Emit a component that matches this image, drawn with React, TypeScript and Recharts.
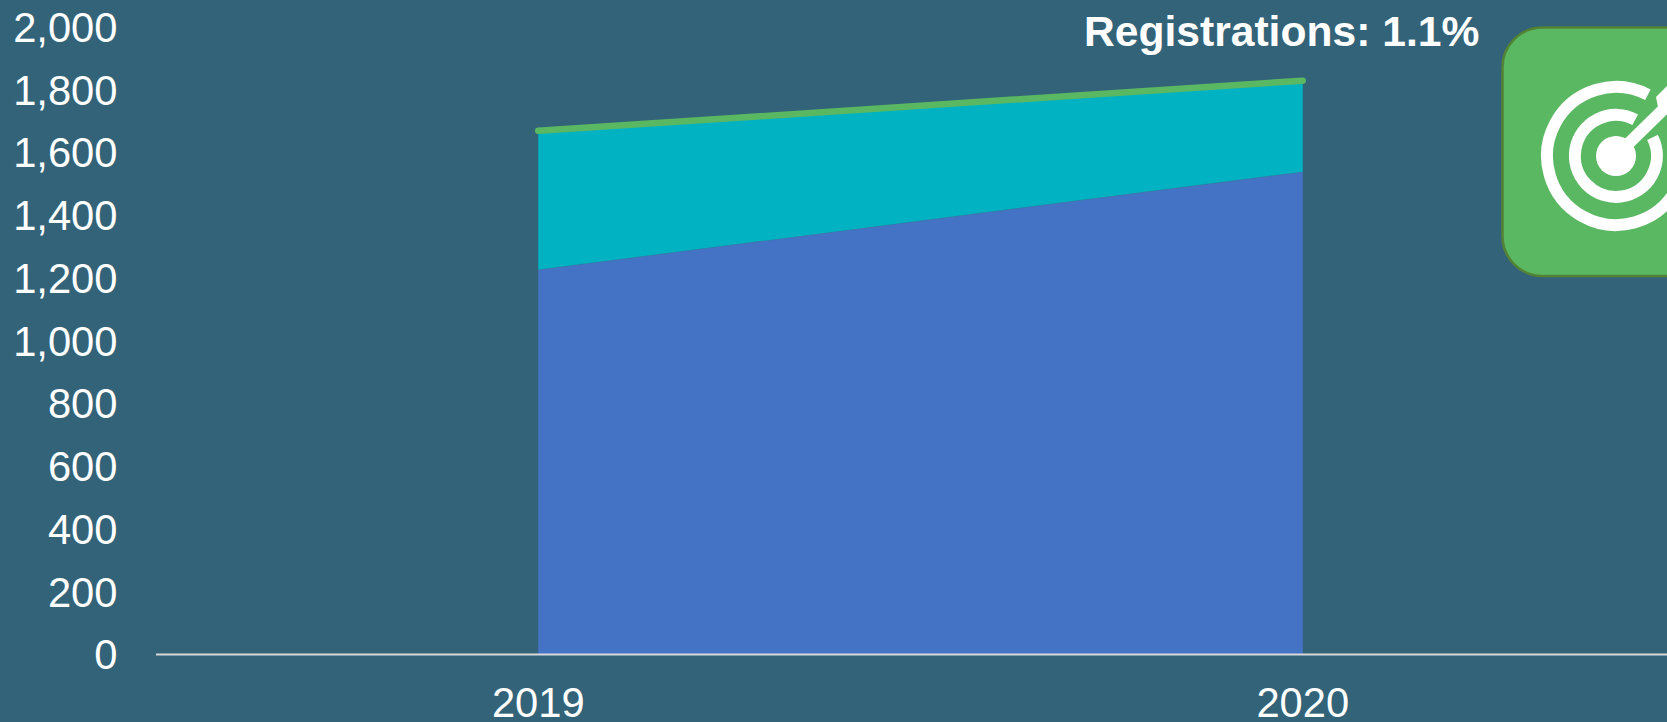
import React from "react";
import { ComposedChart, Area, Line, XAxis, YAxis } from "recharts";

const years = ["2019", "2020"];
const lowerValues = [1227, 1539];
const upperValues = [442, 290];
const totalValues = [1669, 1829];
const yTicks = [0, 200, 400, 600, 800, 1000, 1200, 1400, 1600, 1800, 2000];
const calloutText = "Registrations: 1.1%";

const data = years.map((year, i) => ({
  year,
  lower: lowerValues[i],
  upper: upperValues[i],
  total: totalValues[i],
}));

const FONT = '"Liberation Sans", Arial, sans-serif';
const BG = "#336379";

export default function App() {
  return (
    <div style={{ position: "fixed", left: 0, top: 0, width: 1667, height: 722, overflow: "hidden", background: BG }}>
      <ComposedChart
        width={1685}
        height={722}
        data={data}
        margin={{ top: 27, right: 0, bottom: 0, left: 0 }}
        style={{ position: "absolute", left: 0, top: 0 }}
      >
        <XAxis
          dataKey="year"
          scale="band"
          height={67.5}
          tickLine={false}
          tickMargin={27}
          axisLine={{ stroke: "#D9D9D9", strokeWidth: 2 }}
          tick={{ fill: "#FFFFFF", fontSize: 41.7, fontFamily: FONT }}
        />
        <YAxis
          width={156}
          domain={[0, 2000]}
          ticks={yTicks}
          interval={0}
          axisLine={false}
          tickLine={false}
          tickMargin={32.5}
          tickFormatter={(v: number) => v.toLocaleString("en-US")}
          tick={{ fill: "#FFFFFF", fontSize: 41.7, fontFamily: FONT }}
        />
        <Area
          dataKey="lower"
          stackId="a"
          type="linear"
          fill="#4472C4"
          fillOpacity={1}
          stroke="#2F7F9E"
          strokeWidth={1}
          isAnimationActive={false}
        />
        <Area
          dataKey="upper"
          stackId="a"
          type="linear"
          fill="#00B2C2"
          fillOpacity={1}
          stroke="none"
          isAnimationActive={false}
        />
        <Line
          dataKey="total"
          type="linear"
          stroke="#5AB862"
          strokeWidth={6.5}
          strokeLinecap="round"
          dot={false}
          activeDot={false}
          isAnimationActive={false}
        />
      </ComposedChart>
      <div
        style={{
          position: "absolute",
          left: 1084,
          top: 8,
          fontFamily: FONT,
          fontWeight: 700,
          fontSize: 42.6,
          lineHeight: "46px",
          color: "#FFFFFF",
          whiteSpace: "nowrap",
        }}
      >
        {calloutText}
      </div>
      <svg width={1667} height={722} style={{ position: "absolute", left: 0, top: 0 }}>
        <rect x={1502.5} y={27.5} width={260} height={248.5} rx={40} fill="#5AB862" stroke="#548235" strokeWidth={2.5} />
        <path d="M 1647.9 94.8 A 69 69 0 1 0 1675.8 190.5" fill="none" stroke="#FFFFFF" strokeWidth={12} />
        <path d="M 1635.2 119.7 A 41 41 0 1 0 1652.5 137.4" fill="none" stroke="#FFFFFF" strokeWidth={12} />
        <circle cx={1616} cy={156} r={20} fill="#FFFFFF" />
        <line x1={1626} y1={146} x2={1672} y2={101} stroke="#FFFFFF" strokeWidth={12} />
        <path d="M 1656 97 L 1668 85 L 1668 109 L 1658 107 Z" fill="#FFFFFF" />
      </svg>
    </div>
  );
}
